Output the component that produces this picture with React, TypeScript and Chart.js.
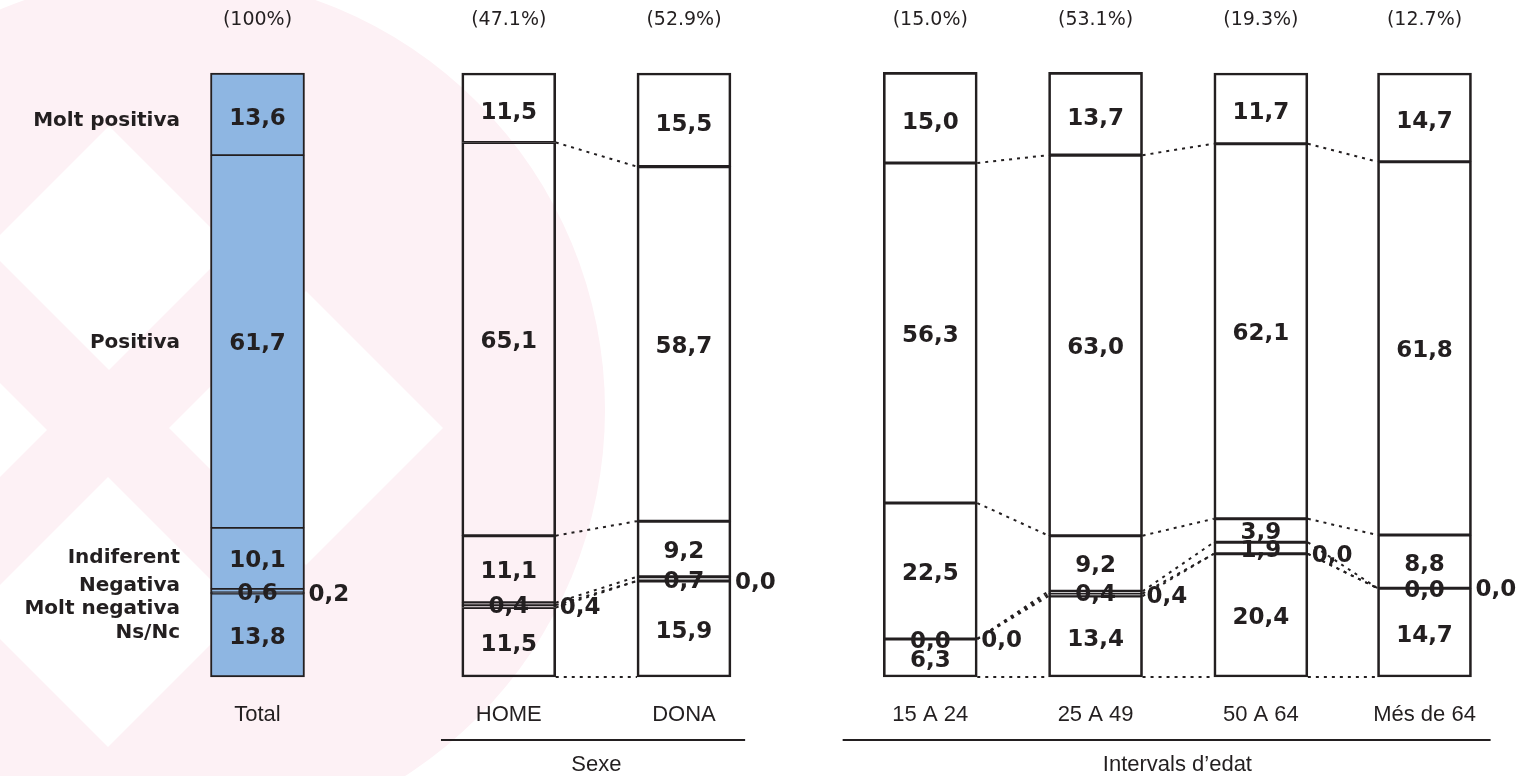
import React, { useEffect, useRef } from 'react';
import { Chart, registerables } from 'chart.js';

Chart.register(...registerables);

// ---------- data ----------
const categories = ['Total', 'HOME', 'DONA', '15 A 24', '25 A 49', '50 A 64', 'Més de 64'];
const categoryGroup = ['', 'Sexe', 'Sexe', 'Intervals d’edat', 'Intervals d’edat', 'Intervals d’edat', 'Intervals d’edat'];
const sampleShare = [100, 47.1, 52.9, 15.0, 53.1, 19.3, 12.7];
const seriesNames = ['Ns/Nc', 'Molt negativa', 'Negativa', 'Indiferent', 'Positiva', 'Molt positiva'];
const nsNc = [13.8, 11.5, 15.9, 6.3, 13.4, 20.4, 14.7];
const moltNegativa = [0.2, 0.4, 0.0, 0.0, 0.4, 0.0, 0.0];
const negativa = [0.6, 0.4, 0.7, 0.0, 0.4, 1.9, 0.0];
const indiferent = [10.1, 11.1, 9.2, 22.5, 9.2, 3.9, 8.8];
const positiva = [61.7, 65.1, 58.7, 56.3, 63.0, 62.1, 61.8];
const moltPositiva = [13.6, 11.5, 15.5, 15.0, 13.7, 11.7, 14.7];
// category slot positions on the x axis (groups are separated by wider gaps)
const slotPositions = [0, 1.52, 2.58, 4.07, 5.07, 6.07, 7.06];

const seriesValues = [nsNc, moltNegativa, negativa, indiferent, positiva, moltPositiva];

const INK = '#231f20';
const BLUE = '#8eb6e2';
const PINK = 'rgb(253, 241, 245)';
const VALUE_FONT = 'bold 23px "DejaVu Sans", Verdana, sans-serif';
const NAME_FONT = 'bold 20px "DejaVu Sans", Verdana, sans-serif';
const SHARE_FONT = '19px "DejaVu Sans", Verdana, sans-serif';
const CAT_FONT = '22px "Liberation Sans", Arial, sans-serif';

const fmt = (v: number) => v.toFixed(1).replace('.', ',');

const watermarkPlugin = {
  id: 'watermark',
  beforeDraw(chart: any) {
    const ctx = chart.ctx;
    ctx.save();
    ctx.fillStyle = PINK;
    ctx.beginPath();
    ctx.arc(170, 410, 435, 0, Math.PI * 2);
    ctx.fill();
    ctx.fillStyle = '#ffffff';
    const diamonds = [
      [109, 248, 122],
      [-90, 430, 137],
      [108, 612, 135],
      [306, 428, 137],
    ];
    diamonds.forEach(([cx, cy, h]) => {
      ctx.beginPath();
      ctx.moveTo(cx, cy - h);
      ctx.lineTo(cx + h, cy);
      ctx.lineTo(cx, cy + h);
      ctx.lineTo(cx - h, cy);
      ctx.closePath();
      ctx.fill();
    });
    ctx.restore();
  },
};

const annotationPlugin = {
  id: 'annotations',
  afterDatasetsDraw(chart: any) {
    const ctx = chart.ctx;
    const xScale = chart.scales.x;
    const metas = seriesValues.map((_, d) => chart.getDatasetMeta(d));
    ctx.save();

    // series lines (dotted) between neighbouring bars of the same group
    ctx.strokeStyle = INK;
    ctx.lineWidth = 2;
    ctx.setLineDash([3, 5]);
    for (let i = 0; i < categories.length - 1; i++) {
      if (!categoryGroup[i] || categoryGroup[i] !== categoryGroup[i + 1]) continue;
      metas.forEach((meta: any) => {
        const a = meta.data[i];
        const b = meta.data[i + 1];
        ctx.beginPath();
        ctx.moveTo(a.x + a.width / 2, a.base);
        ctx.lineTo(b.x - b.width / 2, b.base);
        ctx.stroke();
      });
    }
    ctx.setLineDash([]);

    // value labels
    ctx.fillStyle = INK;
    ctx.font = VALUE_FONT;
    ctx.textBaseline = 'middle';
    metas.forEach((meta: any, d: number) => {
      meta.data.forEach((bar: any, i: number) => {
        const v = seriesValues[d][i];
        const yMid = (bar.y + bar.base) / 2;
        if (d === 1) {
          ctx.textAlign = 'left';
          ctx.fillText(fmt(v), bar.x + bar.width / 2 + 4, yMid + 2);
        } else {
          ctx.textAlign = 'center';
          ctx.fillText(fmt(v), bar.x, yMid + (d === 5 ? 5 : 3));
        }
      });
    });

    // sample share above each bar
    ctx.font = SHARE_FONT;
    ctx.textAlign = 'center';
    metas[0].data.forEach((bar: any, i: number) => {
      const s = sampleShare[i] === 100 ? '100' : sampleShare[i].toFixed(1);
      ctx.fillText('(' + s + '%)', bar.x, 20);
    });

    // category labels
    ctx.font = CAT_FONT;
    metas[0].data.forEach((bar: any, i: number) => {
      ctx.fillText(categories[i], bar.x, 715);
    });

    // group rules + titles
    const groups: string[] = [];
    categoryGroup.forEach((g) => { if (g && !groups.includes(g)) groups.push(g); });
    ctx.lineWidth = 1.8;
    groups.forEach((g) => {
      const idx = categoryGroup.map((c, i) => (c === g ? i : -1)).filter((i) => i >= 0);
      const first = idx[0];
      const last = idx[idx.length - 1];
      const left = xScale.getPixelForValue(slotPositions[first] - (g === 'Sexe' ? 0.41 : 0.53));
      const right = xScale.getPixelForValue(slotPositions[last] + (g === 'Sexe' ? 0.37 : 0.4));
      ctx.beginPath();
      ctx.moveTo(left, 740);
      ctx.lineTo(right, 740);
      ctx.stroke();
      const cx = (metas[0].data[first].x + metas[0].data[last].x) / 2;
      ctx.fillText(g, cx, 765);
    });

    // series names on the left (aligned with Total bar)
    ctx.font = NAME_FONT;
    ctx.textAlign = 'right';
    const nameX = 180;
    const segMid = (d: number) => {
      const b = metas[d].data[0];
      return (b.y + b.base) / 2;
    };
    ctx.fillText(seriesNames[5], nameX, segMid(5) + 7);
    ctx.fillText(seriesNames[4], nameX, segMid(4) + 1);
    const base = segMid(3);
    ctx.fillText(seriesNames[3], nameX, base - 1);
    ctx.fillText(seriesNames[2], nameX, base + 27);
    ctx.fillText(seriesNames[1], nameX, base + 50);
    ctx.fillText(seriesNames[0], nameX, base + 74);

    ctx.restore();
  },
};

export default function App() {
  const ref = useRef<HTMLCanvasElement | null>(null);

  useEffect(() => {
    if (!ref.current) return;
    const pxPerUnit = (1424.5 - 257.5) / slotPositions[slotPositions.length - 1];
    const xMin = -257.5 / pxPerUnit;
    const xMax = xMin + 1519 / pxPerUnit;

    const chart = new Chart(ref.current, {
      type: 'bar',
      data: {
        datasets: seriesValues.map((vals, d) => ({
          label: seriesNames[d],
          data: vals.map((v, i) => ({ x: slotPositions[i], y: v })),
          backgroundColor: (c: any) => (c.dataIndex === 0 ? BLUE : 'rgba(255,255,255,0)'),
          borderColor: INK,
          borderWidth: {
            left: 2,
            right: 2,
            top: d === seriesValues.length - 1 ? 2 : 1.2,
            bottom: d === 0 ? 2 : 1.2,
          },
          borderSkipped: false,
          barThickness: 94,
          clip: false,
        })),
      },
      options: {
        animation: false,
        responsive: false,
        events: [],
        layout: { padding: { top: 73, bottom: 99, left: 0, right: 0 } },
        plugins: { legend: { display: false }, tooltip: { enabled: false } },
        scales: {
          x: { type: 'linear', min: xMin, max: xMax, stacked: true, offset: false, display: false },
          y: { type: 'linear', min: 0, max: 100, stacked: true, display: false },
        },
      } as any,
      plugins: [watermarkPlugin, annotationPlugin],
    } as any);
    return () => chart.destroy();
  }, []);

  return (
    <div style={{ position: 'absolute', left: 0, top: 0, width: 1519, height: 776, background: '#fff' }}>
      <canvas ref={ref} width={1519} height={776} style={{ display: 'block' }} />
    </div>
  );
}
